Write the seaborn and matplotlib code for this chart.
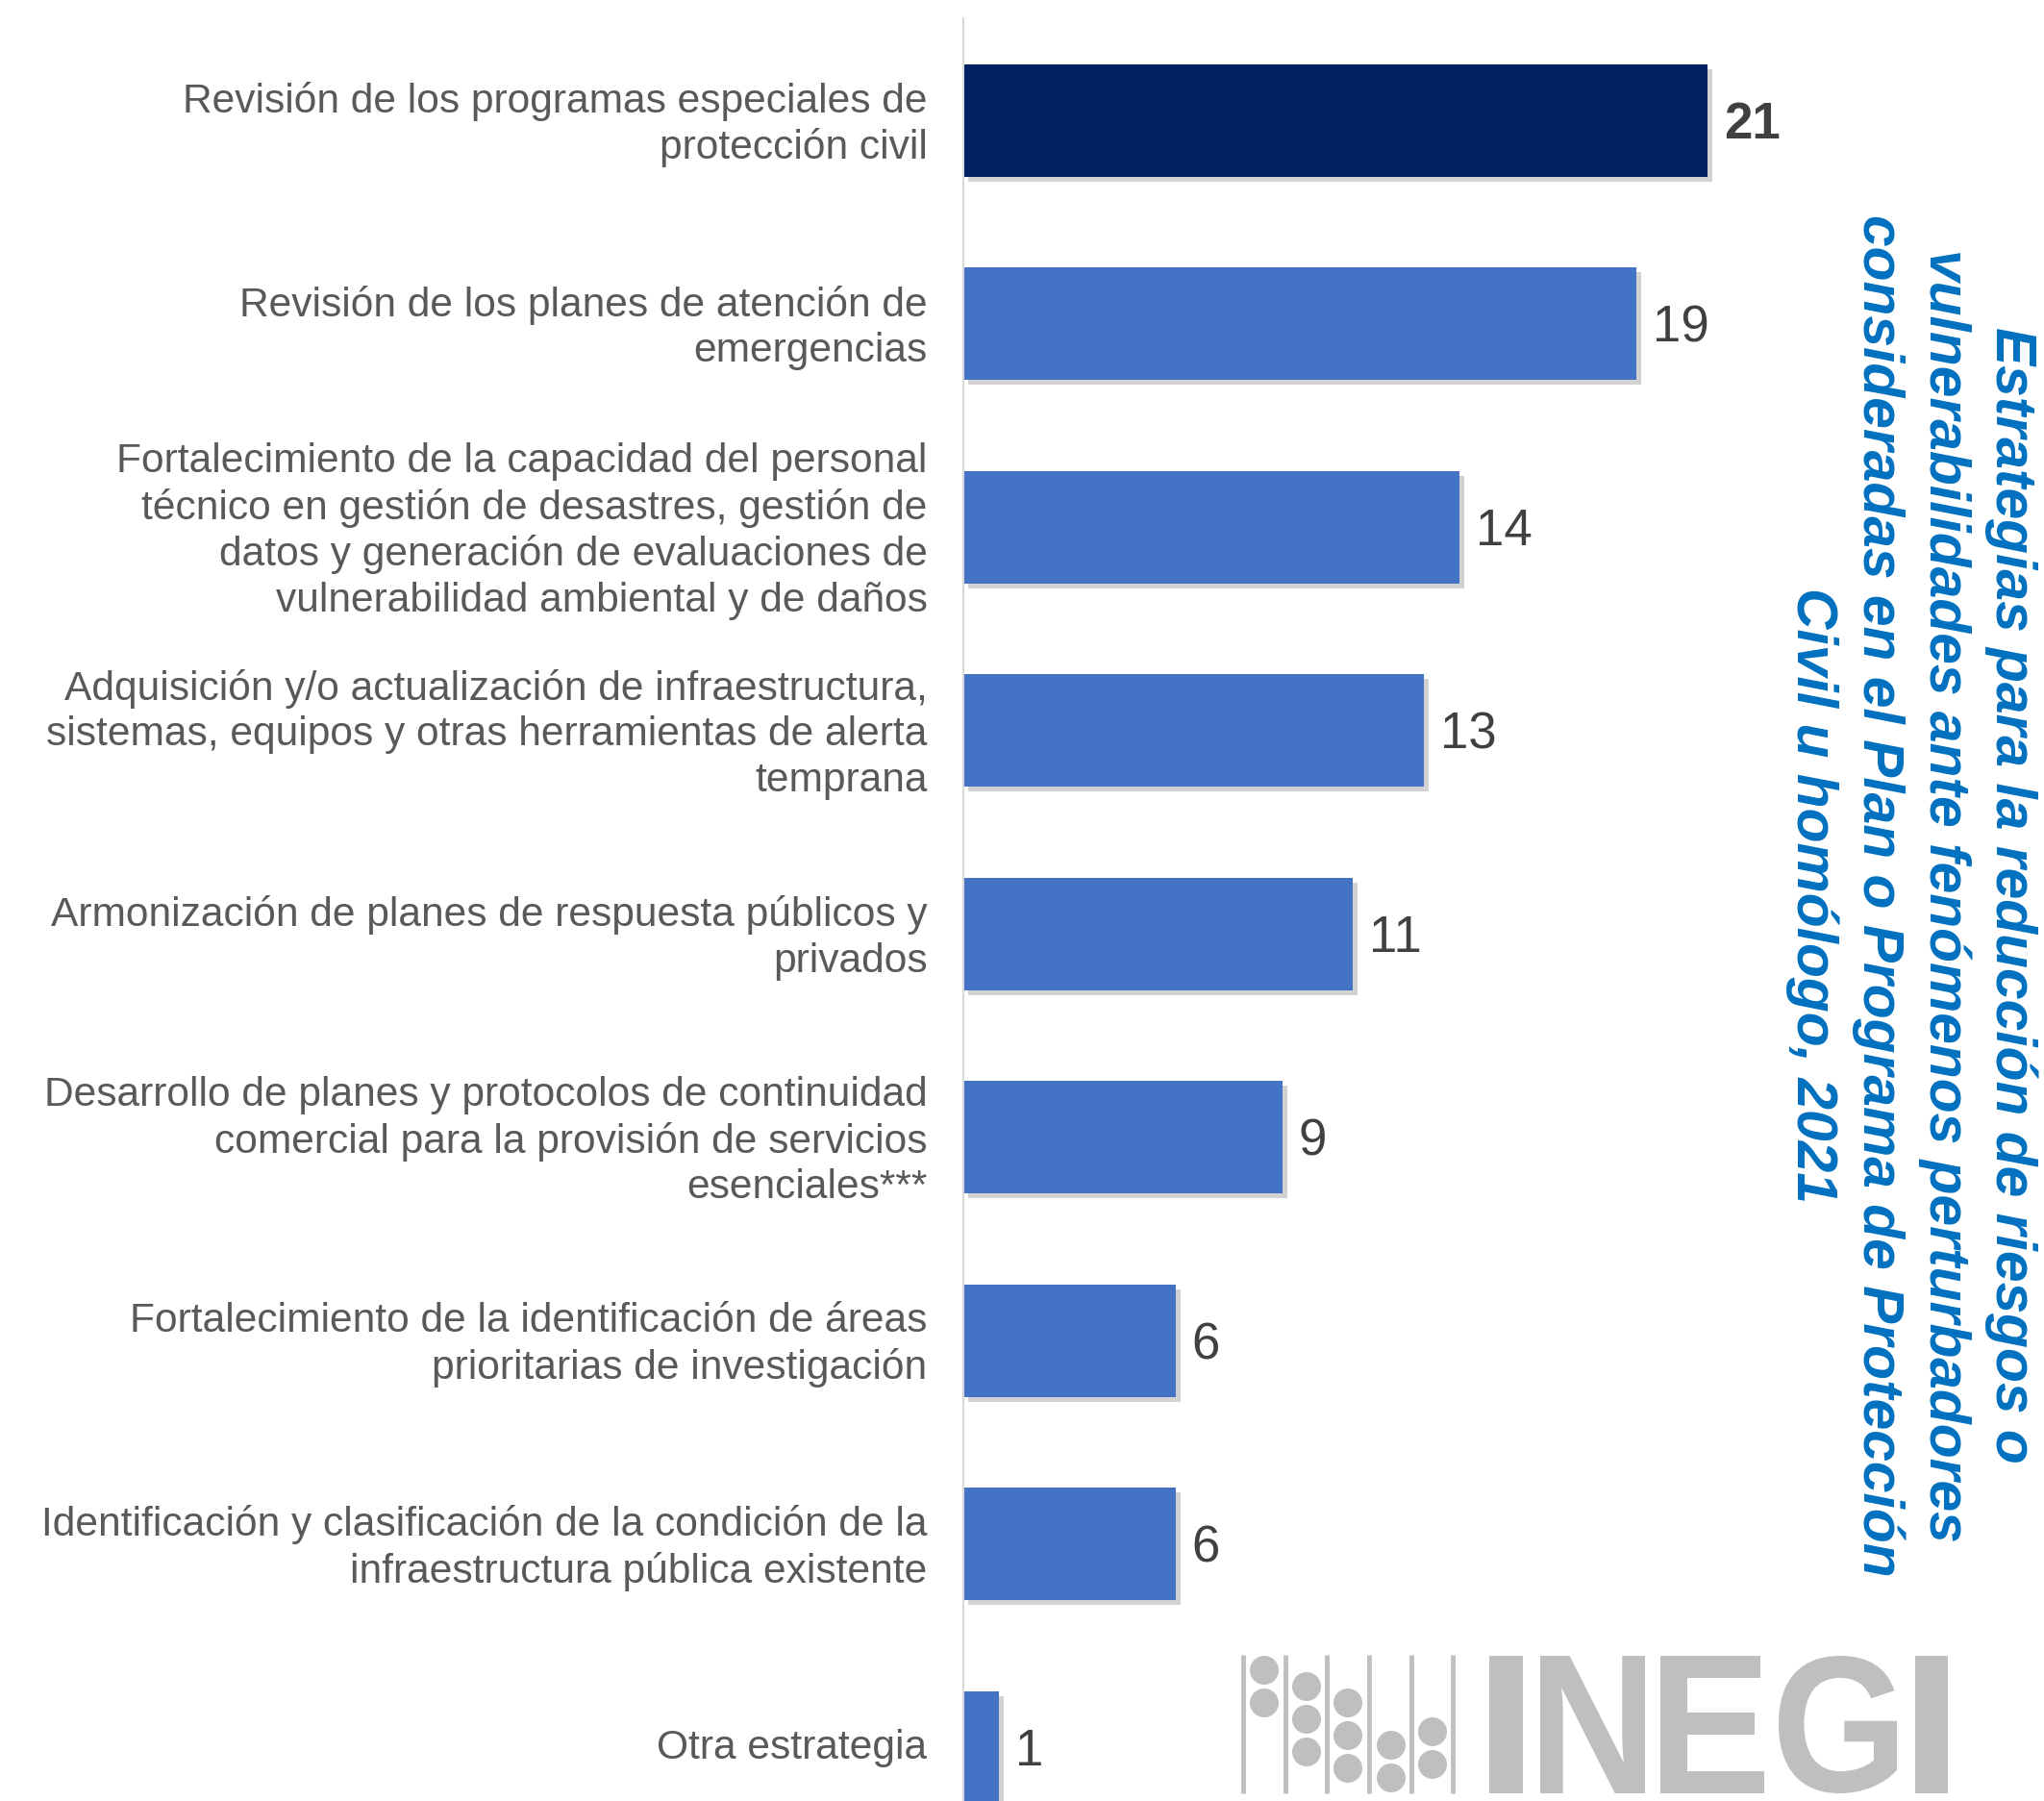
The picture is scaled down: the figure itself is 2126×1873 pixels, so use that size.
import seaborn as sns
import matplotlib.pyplot as plt
import matplotlib.patheffects as pe
from matplotlib.patches import Circle, PathPatch
from matplotlib.textpath import TextPath
from matplotlib.font_manager import FontProperties
from matplotlib.transforms import Affine2D, ScaledTranslation

estrategias = [
    "Revisión de los programas especiales de\nprotección civil",
    "Revisión de los planes de atención de\nemergencias",
    "Fortalecimiento de la capacidad del personal\ntécnico en gestión de desastres, gestión de\ndatos y generación de evaluaciones de\nvulnerabilidad ambiental y de daños",
    "Adquisición y/o actualización de infraestructura,\nsistemas, equipos y otras herramientas de alerta\ntemprana",
    "Armonización de planes de respuesta públicos y\nprivados",
    "Desarrollo de planes y protocolos de continuidad\ncomercial para la provisión de servicios\nesenciales***",
    "Fortalecimiento de la identificación de áreas\nprioritarias de investigación",
    "Identificación y clasificación de la condición de la\ninfraestructura pública existente",
    "Otra estrategia",
]
valores = [21, 19, 14, 13, 11, 9, 6, 6, 1]
colores = ["#002060"] + ["#4472C4"] * 8

titulo = ("Estrategias para la reducción de riesgos o\n"
          "vulnerabilidades ante fenómenos perturbadores\n"
          "consideradas en el Plan o Programa de Protección\n"
          "Civil u homólogo, 2021")

sns.set_theme(style="white")
plt.rcParams['font.family'] = ['Liberation Sans', 'DejaVu Sans']

W, H = 2126, 1874
fig = plt.figure(figsize=(W / 100, H / 100), dpi=100)
ax = fig.add_axes([1002 / W, 0, 921.5 / W, 1 - 20 / H])

sns.barplot(x=valores, y=estrategias, hue=estrategias, palette=colores,
            legend=False, orient="h", width=0.553, saturation=1, linewidth=0, ax=ax)
ax.set_xlim(0, 25)
ax.set_ylim(8.264, -0.502)
ax.set_xlabel("")
ax.set_ylabel("")
ax.set_xticks([])
ax.tick_params(axis="y", length=0, pad=27, labelsize=30.6, labelcolor="#595959")
for s in ["top", "right", "bottom"]:
    ax.spines[s].set_visible(False)
ax.spines["left"].set_color("#D9D9D9")
ax.spines["left"].set_linewidth(1.5)

# las etiquetas del original van un poco por encima del centro de la barra
subir = ScaledTranslation(0, 5 / 100, fig.dpi_scale_trans)
for lab in ax.get_yticklabels():
    lab.set_linespacing(1.24)
    lab.set_transform(lab.get_transform() + subir)

for bar in ax.patches:
    bar.set_path_effects([pe.SimplePatchShadow(offset=(3.5, -3.5), shadow_rgbFace="#909090", alpha=0.4),
                          pe.Normal()])

for i, cont in enumerate(ax.containers):
    txts = ax.bar_label(cont, padding=12, fontsize=38, color="#404040",
                        fontweight="bold" if i == 0 else "normal")
    for t in txts:
        t.xyann = (t.xyann[0], t.xyann[1] - 3)

fig.text(1988 / W, 1 - 931 / H, titulo, rotation=270, ha="center", va="center",
         fontsize=42.3, fontweight="bold", fontstyle="italic", color="#0070C0",
         linespacing=1.31)

# logo INEGI (decorativo, en pixeles de la figura)
lg = fig.add_axes([0, 0, 1, 1])
lg.set_xlim(0, W)
lg.set_ylim(H, 0)
lg.axis("off")
gris = "#BFBFBF"
for x in [1293, 1337, 1380, 1424, 1468, 1511]:
    lg.plot([x, x], [1722, 1866], color=gris, lw=3.5, solid_capstyle="butt")
circulos = {1315: [1738, 1772], 1359: [1755, 1789, 1823], 1402: [1772, 1806, 1840],
            1447: [1816, 1850], 1490: [1802, 1836]}
for cx, ys in circulos.items():
    for cy in ys:
        lg.add_patch(Circle((cx, cy), 15, color=gris, lw=0))
letras = [("I", 1549, 1584), ("N", 1602, 1711), ("E", 1727, 1835), ("G", 1850, 1973), ("I", 1992, 2026)]
fp = FontProperties(family="Liberation Sans", weight="bold")
for ch, x0, x1 in letras:
    tp = TextPath((0, 0), ch, size=100, prop=fp)
    ext = tp.get_extents()
    tr = (Affine2D().translate(-ext.x0, -ext.y0)
          .scale((x1 - x0) / ext.width, -(1866 - 1723) / ext.height)
          .translate(x0, 1866))
    lg.add_patch(PathPatch(tr.transform_path(tp), color=gris, lw=0))

fig.savefig("out.png", dpi=100)
